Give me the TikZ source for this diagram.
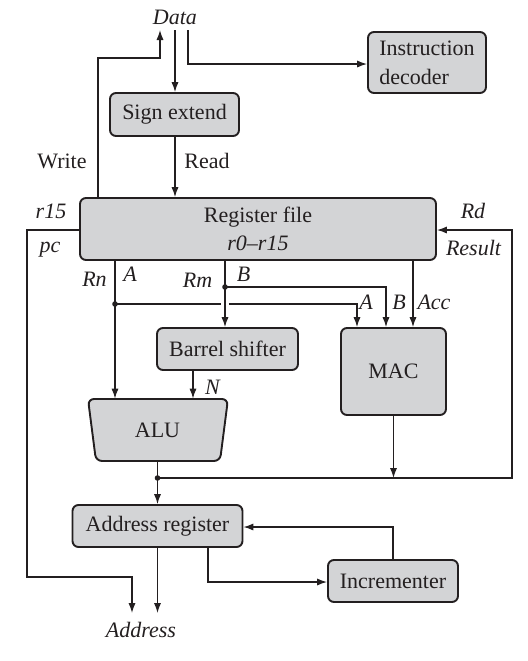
\documentclass[tikz,border=0pt]{standalone}
\usepackage{fontspec}
\setmainfont{Liberation Serif}
\usetikzlibrary{arrows.meta}
\definecolor{boxgray}{RGB}{211,212,214}
\definecolor{ink}{RGB}{35,31,32}
\begin{document}
\begin{tikzpicture}[x=0.5pt,y=-0.5pt,
  font=\fontsize{11}{13}\selectfont,
  box/.style={draw=ink, line width=0.95pt, fill=boxgray, rounded corners=3pt, inner sep=0pt, text=ink},
  conn/.style={draw=ink, line width=0.65pt, -{Latex[length=5pt,width=3.6pt]}},
  wire/.style={draw=ink, line width=0.65pt},
  lab/.style={inner sep=0pt, text=ink},
  ilab/.style={inner sep=0pt, text=ink, font=\fontsize{11}{13}\selectfont\itshape},
  jdot/.style={fill=ink, circle, inner sep=0pt, minimum size=2.8pt}]
\useasboundingbox (0,0) rectangle (528,661);

% boxes
\node[box, minimum width=59pt, minimum height=30.5pt, align=left,
      font=\fontsize{11}{14.5}\selectfont] (dec) at (427,62.5) {Instruction\\decoder};
\node[box, minimum width=64.5pt, minimum height=21.5pt] (sign) at (174.5,114.5) {Sign extend};
\node[box, minimum width=178pt, minimum height=31pt, align=center,
      font=\fontsize{11}{14}\selectfont] (reg) at (258,229) {Register file\\\textit{r0--r15}};
\node[box, minimum width=70.5pt, minimum height=21pt] (bar) at (227.5,349) {Barrel shifter};
\node[box, minimum width=52.5pt, minimum height=43.5pt] (mac) at (393.5,371.5) {MAC};
\draw[box] (157.5,399) -- (228,399) -- (220,461) -- (96,461) -- (88,399) -- cycle;
\node[inner sep=0pt, minimum width=70pt, minimum height=31pt, text=ink] (alu) at (157.5,430) {ALU};
\node[box, minimum width=85pt, minimum height=21pt] (addr) at (157.5,526) {Address register};
\node[box, minimum width=65pt, minimum height=21pt] (inc) at (393,581) {Incrementer};

% labels
\node[ilab] (data) at (175,17.5) {Data};
\node[lab] (write) at (62,161) {Write};
\node[lab] (read) at (207,161) {Read};
\node[ilab] (r15) at (51,211) {r15};
\node[ilab] (pc) at (50,250) {pc};
\node[ilab] (rd) at (473,211) {Rd};
\node[ilab] (result) at (473.5,248) {Result};
\node[ilab] (rn) at (94.5,279) {Rn};
\node[ilab] (la) at (130,274) {A};
\node[ilab] (rm) at (197.5,280) {Rm};
\node[ilab] (lb) at (243.5,274) {B};
\node[ilab] (ma) at (366,302) {A};
\node[ilab] (mb) at (399,302) {B};
\node[ilab] (macc) at (434,302) {Acc};
\node[ilab] (ln) at (212.5,387) {N};
\node[ilab] (address) at (141,629.5) {Address};

% coordinates
\coordinate (wA) at (98,58);
\coordinate (wB) at (160,30);
\coordinate (dA) at (175,30);
\coordinate (dB) at (188,30);
\coordinate (dC) at (188,64);
\coordinate (pA) at (27,230);
\coordinate (pC) at (27,577);
\coordinate (pB) at (132,613);
\coordinate (jn) at (157.5,478);
\coordinate (rA) at (512,478);
\coordinate (jA) at (115,304);
\coordinate (jB) at (225,287);
\coordinate (gapL) at (221,304);
\coordinate (gapR) at (229,304);
\coordinate (xA) at (357,0);
\coordinate (xB) at (386,0);
\coordinate (xacc) at (413,0);
\coordinate (xN) at (193,0);
\coordinate (xai) at (208,582);
\coordinate (ia) at (393,527);

% connectors
\draw[conn] (reg.north -| wA) -- (wA) -| (wB);
\draw[conn] (dA) -- (sign.north -| dA);
\draw[conn] (dB) -- (dC) -- (dec.west |- dC);
\draw[conn] (sign.south -| dA) -- (reg.north -| dA);
\draw[conn] (reg.west |- pA) -- (pA) -- (pC) -| (pB);
\draw[conn] (jn) -- (rA) |- (reg.east |- pA);
\draw[conn] (reg.south -| jA) -- (alu.north -| jA);
\draw[conn] (reg.south -| jB) -- (bar.north -| jB);
\draw[conn] (jB) -| (mac.north -| xB);
\draw[wire] (jA) -- (gapL);
\draw[conn] (gapR) -| (mac.north -| xA);
\draw[conn] (reg.south -| xacc) -- (mac.north -| xacc);
\draw[conn] (bar.south -| xN) -- (alu.north -| xN);
\draw[conn] (alu.south) -- (addr.north);
\draw[conn] (mac.south) -- (mac.south |- jn);
\draw[conn] (addr.south) -- (addr.south |- pB);
\draw[conn] (addr.south -| xai) |- (inc.west |- xai);
\draw[conn] (inc.north -| ia) -- (ia) -- (addr.east |- ia);

% junction dots
\node[jdot] at (jA) {};
\node[jdot] at (jB) {};
\node[jdot] at (jn) {};
\end{tikzpicture}
\end{document}
